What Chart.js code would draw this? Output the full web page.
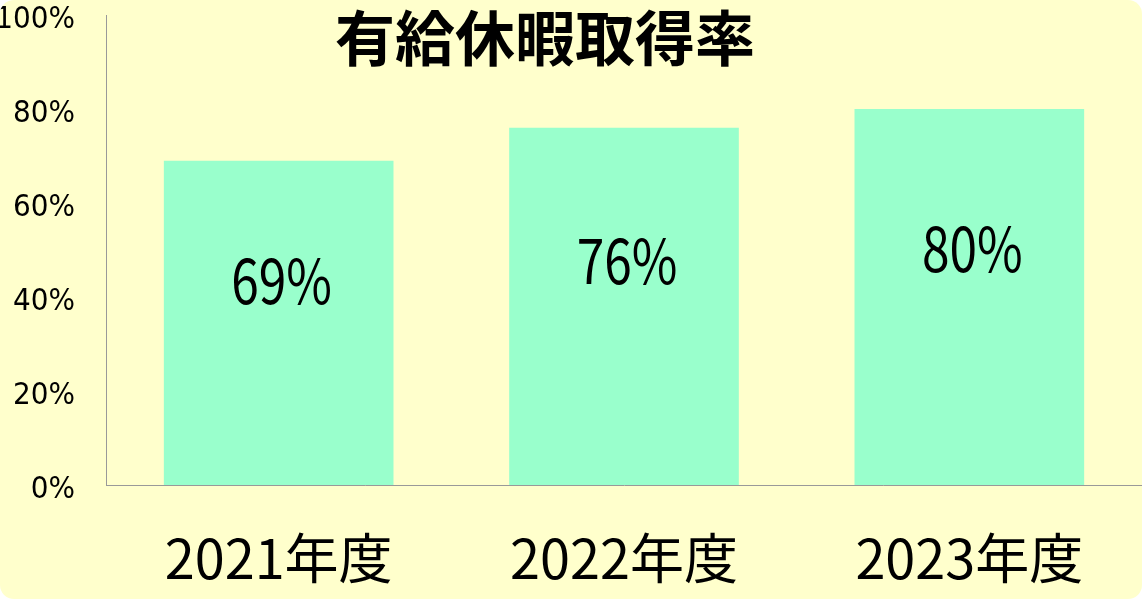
<!DOCTYPE html>
<html lang="ja">
<head>
<meta charset="utf-8">
<script src="https://cdn.jsdelivr.net/npm/chart.js@4/dist/chart.umd.min.js"></script>
<style>
  html, body { margin: 0; padding: 0; background: #fff; }
  .wrap { width: 1142px; height: 599px; background: #FFFFCC; border-radius: 14px; overflow: hidden; position: relative; }
</style>
</head>
<body>
<div class="wrap"><canvas id="chart" width="1142" height="599"></canvas></div>
<script>
const chartTitle = '有給休暇取得率';
const years = ['2021年度', '2022年度', '2023年度'];
const rates = [69, 76, 80];
const yTicks = [0, 20, 40, 60, 80, 100];

const NARROW = "'Liberation Sans Narrow', 'DejaVu Sans Condensed', 'Noto Sans CJK JP', sans-serif";

// value labels sit a bit above the middle of each bar
const barLabels = {
  id: 'barLabels',
  afterDatasetsDraw(chart) {
    const { ctx } = chart;
    const meta = chart.getDatasetMeta(0);
    ctx.fillStyle = '#000';
    ctx.font = `62px 'Noto Sans CJK JP', sans-serif`;
    ctx.textAlign = 'center';
    ctx.textBaseline = 'middle';
    meta.data.forEach((bar, i) => {
      const y = bar.base - (bar.base - bar.y) * 0.63;
      ctx.save();
      ctx.translate(bar.x + 3, y);
      ctx.scale(0.8, 1); // the original uses a narrow gothic face
      ctx.fillText(rates[i] + '%', 0, 0);
      ctx.restore();
    });
  }
};

// title overlaps the plot area in the original, so draw it by hand
const overlayTitle = {
  id: 'overlayTitle',
  afterDraw(chart) {
    const { ctx } = chart;
    ctx.save();
    ctx.fillStyle = '#000';
    ctx.font = "bold 60px 'Noto Sans CJK JP', sans-serif";
    ctx.textAlign = 'center';
    ctx.textBaseline = 'middle';
    ctx.fillText(chartTitle, 545, 38);
    ctx.restore();
  }
};

new Chart(document.getElementById('chart'), {
  type: 'bar',
  data: {
    labels: years,
    datasets: [{
      data: rates,
      backgroundColor: '#99FFCC',
      borderWidth: 0,
      barPercentage: 0.665,
      categoryPercentage: 1,
    }],
  },
  options: {
    responsive: false,
    animation: false,
    layout: { padding: { top: 15, right: 0, bottom: 0, left: 0 } },
    plugins: { legend: { display: false }, title: { display: false }, tooltip: { enabled: false } },
    scales: {
      y: {
        min: 0,
        max: 100,
        afterBuildTicks: s => { s.ticks = yTicks.map(v => ({ value: v })); },
        afterFit: s => { s.width = 106; s.paddingTop = 0; s.paddingBottom = 0; },
        grid: { display: false },
        border: { color: '#999', width: 1 },
        ticks: { color: '#000', padding: 23, labelOffset: 5, font: { family: NARROW, size: 31 }, callback: v => v + '%' },
      },
      x: {
        afterFit: s => { s.height = 114; s.paddingLeft = 0; s.paddingRight = 0; },
        grid: { display: false },
        border: { color: '#999', width: 1 },
        ticks: { color: '#000', padding: 33, font: { family: "'Noto Sans CJK JP', sans-serif", size: 54 } },
      },
    },
  },
  plugins: [barLabels, overlayTitle],
});
</script>
</body>
</html>
